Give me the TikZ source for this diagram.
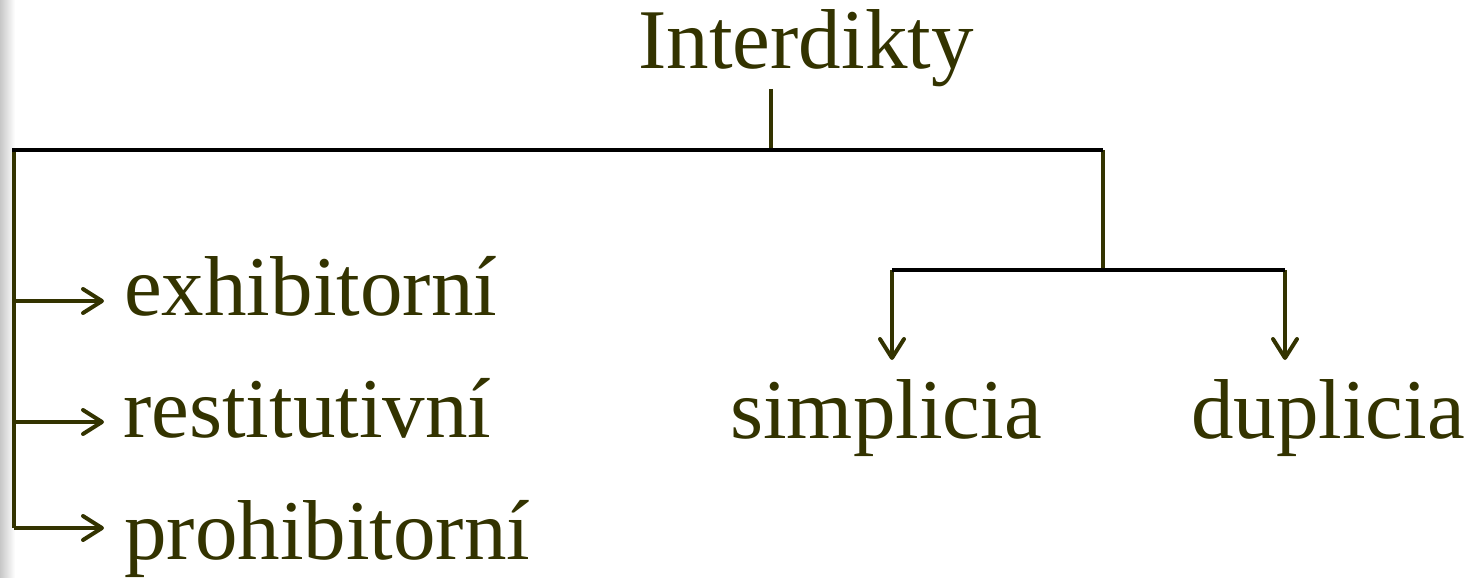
\documentclass[tikz,border=0pt]{standalone}
\usepackage{fontspec}
\setmainfont{Liberation Serif}
\usetikzlibrary{arrows.meta}
\definecolor{olive}{HTML}{333300}
\tikzset{
  lbl/.style={text=olive, inner sep=0pt, anchor=base west, font=\fontsize{85}{100}\selectfont},
  conn/.style={draw=olive, line width=4pt},
  bus/.style={draw=black, line width=4pt},
  arr/.style={conn, -{Straight Barb[length=19pt,width=24pt,round]}}
}
\begin{document}
\begin{tikzpicture}[x=1pt,y=-1pt]
\useasboundingbox (0,0) rectangle (1484,578);
\shade[left color=black!22, right color=white] (0,0) rectangle (15,578);
\node[lbl, anchor=base] (top) at (806,69) {Interdikty};
\node[lbl] (ex) at (124,315) {exhibitorní};
\node[lbl] (re) at (123,437) {restitutivní};
\node[lbl] (pr) at (124,559) {prohibitorní};
\node[lbl] (si) at (730,438) {simplicia};
\node[lbl] (du) at (1191,438) {duplicia};
\coordinate (busL) at (14,150);
\coordinate (busM) at (771,150);
\coordinate (busR) at (1103,150);
\coordinate (sub) at (1103,270);
\coordinate (subL) at (892,270);
\coordinate (subR) at (1285,270);
\coordinate (exT) at (104,301);
\coordinate (reT) at (104,422);
\coordinate (prT) at (104,528);
\coordinate (siT) at (892,360);
\coordinate (duT) at (1285,360);
% stub from title
\draw[conn] (busM |- 0,89) -- (busM);
% left branch
\draw[conn] (busL) -- (busL |- prT);
\draw[arr] (busL |- exT) -- (exT);
\draw[arr] (busL |- reT) -- (reT);
\draw[arr] (busL |- prT) -- (prT);
% right branch
\draw[conn] (busR) -- (sub);
\draw[arr] (subL) -- (siT);
\draw[arr] (subR) -- (duT);
\draw[bus] (subL) -- (subR);
\draw[bus] ([xshift=-2pt]busL) -- (busR);
\end{tikzpicture}
\end{document}
